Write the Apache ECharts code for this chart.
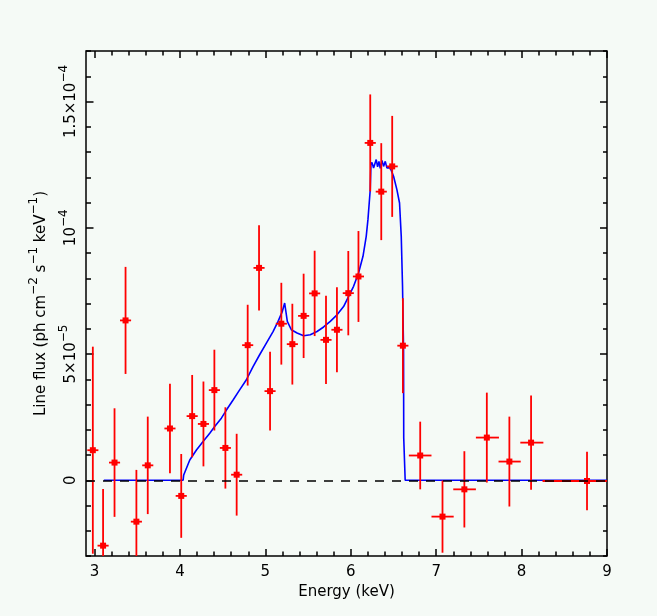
<!DOCTYPE html>
<html>
<head>
<meta charset="utf-8">
<title>Line flux</title>
<script src="https://cdn.jsdelivr.net/npm/echarts@6/dist/echarts.min.js"></script>
<style>
  html, body { margin: 0; padding: 0; background: #f5faf6; }
  #chart { width: 657px; height: 616px; }
</style>
</head>
<body>
<div id="chart"></div>
<script>
// measured line flux, in units of 1e-5 ph cm^-2 s^-1 keV^-1
const energy = [2.98, 3.10, 3.234, 3.363, 3.49, 3.623, 3.883, 4.015, 4.143, 4.275, 4.403, 4.532, 4.664, 4.793, 4.926, 5.055, 5.187, 5.316, 5.448, 5.577, 5.71, 5.838, 5.971, 6.09, 6.228, 6.357, 6.485, 6.61, 6.813, 7.074, 7.33, 7.593, 7.857, 8.111, 8.766];
const binLo = [2.915, 3.035, 3.169, 3.298, 3.425, 3.558, 3.818, 3.95, 4.078, 4.21, 4.338, 4.467, 4.599, 4.728, 4.861, 4.99, 5.122, 5.251, 5.383, 5.512, 5.645, 5.773, 5.906, 6.025, 6.163, 6.292, 6.42, 6.545, 6.68, 6.945, 7.2, 7.465, 7.73, 7.985, 8.245];
const binHi = [3.045, 3.165, 3.299, 3.428, 3.555, 3.688, 3.948, 4.08, 4.208, 4.34, 4.468, 4.597, 4.729, 4.858, 4.991, 5.12, 5.252, 5.381, 5.513, 5.642, 5.775, 5.903, 6.036, 6.155, 6.293, 6.422, 6.55, 6.675, 6.945, 7.205, 7.465, 7.735, 7.99, 8.255, 9.0];
const flux = [1.19, -2.59, 0.70, 6.33, -1.64, 0.59, 2.05, -0.62, 2.54, 2.23, 3.57, 1.28, 0.22, 5.35, 8.41, 3.53, 6.20, 5.39, 6.51, 7.40, 5.56, 5.96, 7.41, 8.07, 13.36, 11.43, 12.43, 5.33, 0.98, -1.44, -0.36, 1.69, 0.74, 1.49, -0.03];
const fluxErr = [4.1, 2.24, 2.15, 2.12, 2.05, 1.93, 1.77, 1.66, 1.63, 1.68, 1.6, 1.61, 1.62, 1.6, 1.69, 1.56, 1.62, 1.6, 1.67, 1.69, 1.75, 1.68, 1.67, 1.8, 1.92, 1.92, 2.0, 1.88, 1.34, 1.43, 1.51, 1.78, 1.78, 1.87, 1.16];

// model line profile, same units
const modelEnergy = [3.109, 4.037, 4.044, 4.115, 4.193, 4.271, 4.349, 4.407, 4.485, 4.544, 4.622, 4.699, 4.778, 4.856, 4.933, 5.012, 5.090, 5.149, 5.199, 5.226, 5.246, 5.257, 5.304, 5.371, 5.448, 5.526, 5.605, 5.682, 5.760, 5.839, 5.916, 5.975, 6.033, 6.091, 6.143, 6.181, 6.201, 6.216, 6.228, 6.236, 6.248, 6.267, 6.298, 6.314, 6.330, 6.345, 6.365, 6.384, 6.404, 6.423, 6.462, 6.501, 6.540, 6.571, 6.591, 6.606, 6.618, 6.620, 6.637, 6.637, 9.0];
const modelFlux = [0, 0, 0.21, 0.80, 1.20, 1.53, 1.86, 2.13, 2.46, 2.78, 3.18, 3.58, 3.98, 4.50, 4.97, 5.43, 5.89, 6.29, 6.69, 7.02, 6.95, 6.29, 5.96, 5.83, 5.72, 5.76, 5.89, 6.07, 6.29, 6.55, 6.88, 7.28, 7.68, 8.21, 8.87, 9.66, 10.32, 10.98, 11.51, 12.50, 12.59, 12.37, 12.70, 12.41, 12.63, 12.35, 12.67, 12.43, 12.63, 12.37, 12.37, 12.04, 11.51, 10.98, 9.66, 7.68, 5.17, 1.68, 1.68, 0, 0];

// axes
const xMajorTicks = [3, 4, 5, 6, 7, 8, 9];
const xMinorTicks = [3.2, 3.4, 3.6, 3.8, 4.2, 4.4, 4.6, 4.8, 5.2, 5.4, 5.6, 5.8, 6.2, 6.4, 6.6, 6.8, 7.2, 7.4, 7.6, 7.8, 8.2, 8.4, 8.6, 8.8];
const yMajorTicks = [0, 5, 10, 15];
const yTickLabels = ['{n|0}', '{n|5×10}{s|−5}', '{n|10}{s|−4}', '{n|1.5×10}{s|−4}'];
const yMinorTicks = [-3, -2, -1, 1, 2, 3, 4, 6, 7, 8, 9, 11, 12, 13, 14, 16, 17];

const FONT = 'DejaVu Sans';
const rich = {
  n: { fontFamily: FONT, fontSize: 15, color: '#000', verticalAlign: 'bottom', lineHeight: 18 },
  s: { fontFamily: FONT, fontSize: 12, color: '#000', verticalAlign: 'bottom', lineHeight: 14, padding: [0, 0, 9, 0] }
};

const tickStyle = { color: '#000', width: 1.5 };

function xAxisDef(position, ticks, len, withLabels) {
  return {
    type: 'value', position: position, min: 2.9, max: 9,
    axisLine: { show: false, onZero: false }, splitLine: { show: false },
    axisTick: { inside: true, length: len, customValues: ticks, lineStyle: tickStyle },
    axisLabel: withLabels ? {
      customValues: ticks, margin: 9, fontFamily: FONT, fontSize: 15, color: '#000',
      formatter: (v) => String(v)
    } : { show: false },
    name: withLabels ? 'Energy (keV)' : '',
    nameLocation: 'middle', nameGap: 27,
    nameTextStyle: { fontFamily: FONT, fontSize: 15, color: '#000' }
  };
}

function yAxisDef(position, ticks, len, withLabels) {
  return {
    type: 'value', position: position, min: -3, max: 17,
    axisLine: { show: false, onZero: false }, splitLine: { show: false },
    axisTick: { inside: true, length: len, customValues: ticks, lineStyle: tickStyle },
    axisLabel: withLabels ? {
      customValues: ticks, margin: 7, rotate: 90, rich: rich,
      formatter: (v) => {
        const i = yMajorTicks.findIndex((t) => Math.abs(t - v) < 1e-6);
        return i >= 0 ? yTickLabels[i] : '';
      }
    } : { show: false },
    name: withLabels ? '{n|Line flux (ph cm}{s|−2}{n| s}{s|−1}{n| keV}{s|−1}{n|)}' : '',
    nameLocation: 'middle', nameGap: 37, nameRotate: 90,
    nameTextStyle: { rich: rich }
  };
}

// red crosses: bin width horizontally, 1 sigma vertically
function renderErrorBar(params, api) {
  const c = api.coord([api.value(0), api.value(1)]);
  const lo = api.coord([api.value(2), api.value(1)]);
  const hi = api.coord([api.value(3), api.value(1)]);
  const top = api.coord([api.value(0), api.value(1) + api.value(4)]);
  const bot = api.coord([api.value(0), api.value(1) - api.value(4)]);
  const style = { stroke: '#ff0000', lineWidth: 1.8 };
  return {
    type: 'group',
    children: [
      { type: 'line', shape: { x1: lo[0], y1: c[1], x2: hi[0], y2: c[1] }, style: style },
      { type: 'line', shape: { x1: c[0], y1: top[1], x2: c[0], y2: bot[1] }, style: style },
      { type: 'rect', shape: { x: c[0] - 3, y: c[1] - 3, width: 6, height: 6 }, style: { fill: '#ff0000' } }
    ]
  };
}

const chart = echarts.init(document.getElementById('chart'));
chart.setOption({
  animation: false,
  backgroundColor: '#f5faf6',
  grid: { left: 86, right: 50, top: 51, bottom: 60, show: true, borderColor: '#000', borderWidth: 1.5, backgroundColor: 'transparent' },
  xAxis: [
    xAxisDef('bottom', xMajorTicks, 7, true),
    xAxisDef('bottom', xMinorTicks, 4.5, false),
    xAxisDef('top', xMajorTicks, 7, false),
    xAxisDef('top', xMinorTicks, 4.5, false)
  ],
  yAxis: [
    yAxisDef('left', yMajorTicks, 7.5, true),
    yAxisDef('left', yMinorTicks, 5, false),
    yAxisDef('right', yMajorTicks, 7, false),
    yAxisDef('right', yMinorTicks, 4, false)
  ],
  series: [
    {
      name: 'model', type: 'line', z: 2,
      data: modelEnergy.map((e, i) => [e, modelFlux[i]]),
      showSymbol: false, symbol: 'none',
      lineStyle: { color: '#0000ff', width: 1.6 }
    },
    {
      name: 'zero', type: 'line', z: 3, data: [],
      markLine: {
        silent: true, symbol: 'none', label: { show: false },
        lineStyle: { color: '#000', type: [9, 8], width: 1.5 },
        data: [{ yAxis: 0 }]
      }
    },
    {
      name: 'data', type: 'custom', z: 4, clip: true,
      renderItem: renderErrorBar,
      encode: { x: 0, y: 1 },
      data: energy.map((e, i) => [e, flux[i], binLo[i], binHi[i], fluxErr[i]])
    }
  ]
});
</script>
</body>
</html>
